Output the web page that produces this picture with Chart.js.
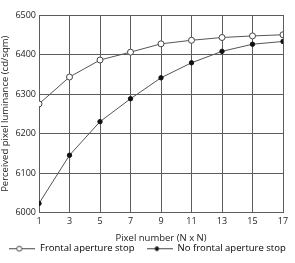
<!DOCTYPE html>
<html>
<head>
<meta charset="utf-8">
<script src="https://cdn.jsdelivr.net/npm/chart.js@4"></script>
<style>
  html, body { margin: 0; padding: 0; background: #fff; }
  #wrap { width: 295px; height: 263px; }
</style>
</head>
<body>
<div id="wrap"><canvas id="chart-canvas" width="295" height="263"></canvas></div>
<script>
const pixelN = [1, 3, 5, 7, 9, 11, 13, 15, 17];
const frontalStop = [6275, 6343, 6386, 6406, 6427, 6436, 6443, 6447, 6450];
const noFrontalStop = [6023, 6145, 6230, 6288, 6341, 6379, 6408, 6426, 6433];
const yTicks = [6000, 6100, 6200, 6300, 6400, 6500];

const FONT = "'Open Sans', 'Liberation Sans', sans-serif";
const gridColor = '#5c5c5c';

// legend swatch: short line with the marker on it
function swatch(filled) {
  const c = document.createElement('canvas');
  c.width = 26; c.height = 8;
  const g = c.getContext('2d');
  g.strokeStyle = '#444';
  g.lineWidth = 1;
  g.beginPath(); g.moveTo(0, 4.5); g.lineTo(26, 4.5); g.stroke();
  g.beginPath(); g.arc(10, 4.5, filled ? 2 : 2.5, 0, Math.PI * 2);
  g.fillStyle = filled ? '#111' : '#fff';
  g.fill(); g.stroke();
  return c;
}

const toPts = arr => arr.map((v, i) => ({ x: pixelN[i], y: v }));

const chartCtx = document.getElementById('chart-canvas');

const lineChart = new Chart(chartCtx, {
  type: 'line',
  data: {
    datasets: [
      {
        label: 'Frontal aperture stop',
        data: toPts(frontalStop),
        borderColor: '#555',
        borderWidth: 1,
        pointRadius: 3,
        pointBackgroundColor: '#fff',
        pointBorderColor: '#444',
        pointBorderWidth: 1,
        tension: 0
      },
      {
        label: 'No frontal aperture stop',
        data: toPts(noFrontalStop),
        borderColor: '#555',
        borderWidth: 1,
        pointRadius: 2.2,
        pointBackgroundColor: '#111',
        pointBorderColor: '#111',
        pointBorderWidth: 1,
        tension: 0
      }
    ]
  },
  options: {
    responsive: false,
    animation: false,
    layout: { padding: { left: 0, right: 0, top: 15, bottom: 0 } },
    plugins: {
      tooltip: { enabled: false },
      legend: {
        position: 'bottom',
        labels: {
          usePointStyle: true,
          pointStyleWidth: 26,
          boxHeight: 8,
          color: '#222',
          font: { family: FONT, size: 9.5 },
          padding: 0,
          // trailing spaces on the first label open the gap between the two items
          generateLabels: chart => chart.data.datasets.map((ds, i) => ({
            text: i === 0 ? ds.label + '     ' : ds.label,
            pointStyle: swatch(i === 1),
            fillStyle: '#fff',
            strokeStyle: '#fff',
            lineWidth: 0,
            datasetIndex: i
          }))
        }
      }
    },
    scales: {
      x: {
        type: 'linear',
        min: 1,
        max: 17,
        afterFit: axis => { axis.height = 31; axis.paddingRight = 12; },
        ticks: { stepSize: 2, color: '#222', font: { family: FONT, size: 9 }, padding: 4 },
        grid: { color: gridColor, lineWidth: 1, drawTicks: false },
        border: { color: gridColor, width: 1 },
        title: { display: true, text: 'Pixel number (N x N)', color: '#222', font: { family: FONT, size: 9.5 }, padding: { top: 5, bottom: 0 } }
      },
      y: {
        min: 6000,
        max: 6500,
        afterFit: axis => { axis.width = 39; },
        afterBuildTicks: axis => { axis.ticks = yTicks.map(v => ({ value: v })); },
        ticks: { color: '#222', font: { family: FONT, size: 9 }, padding: 3, callback: v => String(v) },
        grid: { color: gridColor, lineWidth: 1, drawTicks: false },
        border: { color: gridColor, width: 1 },
        title: { display: true, text: 'Perceived pixel luminance (cd/sqm)', color: '#222', font: { family: FONT, size: 9.5 }, padding: { top: 0, bottom: 2 } }
      }
    }
  }
});
</script>
</body>
</html>
